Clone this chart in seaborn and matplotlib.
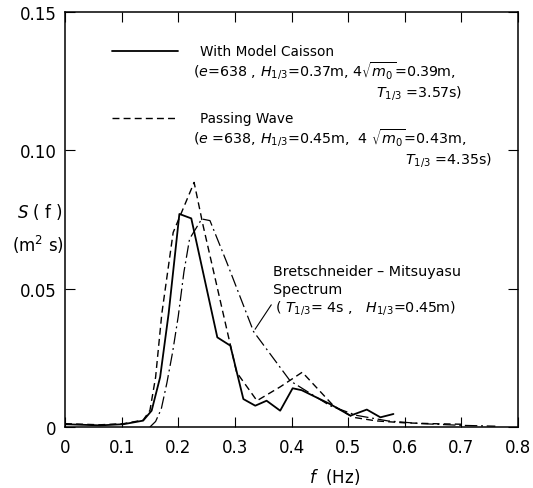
import matplotlib
matplotlib.use("Agg")
import matplotlib.pyplot as plt
import seaborn as sns
import pandas as pd

# ---- data ----
caisson_f = [0.00, 0.03, 0.062, 0.103, 0.138, 0.153, 0.168, 0.183, 0.202, 0.223, 0.269, 0.292,
             0.315, 0.336, 0.356, 0.380, 0.402, 0.418, 0.468, 0.504, 0.533, 0.557, 0.580]
caisson_S = [0.0010, 0.0008, 0.0006, 0.0010, 0.0023, 0.0059, 0.018, 0.041, 0.0770, 0.0754, 0.0324, 0.0294,
             0.0101, 0.0077, 0.0095, 0.0059, 0.0140, 0.0133, 0.0083, 0.0041, 0.0063, 0.0035, 0.0047]

passing_f = [0.00, 0.03, 0.062, 0.103, 0.138, 0.150, 0.160, 0.171, 0.191, 0.228, 0.244, 0.303,
             0.339, 0.380, 0.419, 0.474, 0.509, 0.55, 0.60, 0.65, 0.70]
passing_S = [0.0012, 0.0010, 0.0008, 0.0012, 0.0025, 0.006, 0.018, 0.041, 0.0703, 0.0884, 0.0727, 0.0198,
             0.0095, 0.0145, 0.0198, 0.0077, 0.0035, 0.0022, 0.0015, 0.0012, 0.0010]

bm_f = [0.150, 0.160, 0.170, 0.180, 0.190, 0.200, 0.210, 0.220, 0.2415, 0.256, 0.2857, 0.333,
        0.3975, 0.468, 0.515, 0.57, 0.63, 0.70, 0.76]
bm_S = [0.0000, 0.0020, 0.0065, 0.0160, 0.0270, 0.0400, 0.0560, 0.0680, 0.0752, 0.0746, 0.0595, 0.0345,
        0.0167, 0.0077, 0.0042, 0.0022, 0.0012, 0.0006, 0.0003]

x_ticks = [0, 0.1, 0.2, 0.3, 0.4, 0.5, 0.6, 0.7, 0.8]
x_tick_labels = ["0", "0.1", "0.2", "0.3", "0.4", "0.5", "0.6", "0.7", "0.8"]
y_ticks = [0, 0.05, 0.10, 0.15]
y_tick_labels = ["0", "0.05", "0.10", "0.15"]

sns.set_style("ticks")
plt.rcParams["font.family"] = ["DejaVu Sans"]
plt.rcParams["mathtext.fontset"] = "dejavusans"
plt.rcParams["text.color"] = "black"

W, H = 533, 489
fig = plt.figure(figsize=(W / 100, H / 100), dpi=100)
ax = fig.add_axes([65 / W, 1 - 428 / H, (518 - 65) / W, (428 - 13) / H])

df_c = pd.DataFrame({"f": caisson_f, "S": caisson_S})
df_p = pd.DataFrame({"f": passing_f, "S": passing_S})
df_b = pd.DataFrame({"f": bm_f, "S": bm_S})

sns.lineplot(data=df_c, x="f", y="S", ax=ax, color="black", lw=1.3, sort=False, estimator=None)
sns.lineplot(data=df_p, x="f", y="S", ax=ax, color="black", lw=1.0, sort=False, estimator=None,
             linestyle=(0, (5, 3)))
sns.lineplot(data=df_b, x="f", y="S", ax=ax, color="black", lw=0.9, sort=False, estimator=None,
             linestyle=(0, (10, 3, 1.5, 3)))

ax.set_xlim(0, 0.8)
ax.set_ylim(0, 0.15)
ax.set_xticks(x_ticks)
ax.set_xticklabels(x_tick_labels)
ax.set_yticks(y_ticks)
ax.set_yticklabels(y_tick_labels)
ax.tick_params(direction="in", top=True, right=True, length=7, width=0.8, labelsize=12,
               colors="black")
ax.tick_params(axis="x", pad=8)
ax.tick_params(axis="y", pad=6)
for s in ax.spines.values():
    s.set_linewidth(1.1)
    s.set_color("black")
ax.set_xlabel("")
ax.set_ylabel("")

# axis labels
fig.text(40 / W, 1 - 212 / H, r"$S$ ( f )", ha="center", va="center", fontsize=12)
fig.text(38 / W, 1 - 245 / H, r"(m$^2$ s)", ha="center", va="center", fontsize=12)
fig.text(335 / W, 1 - 477 / H, r"$f$  (Hz)", ha="center", va="center", fontsize=12)

# legend (drawn by hand like the original)
fs_word = 9.8
fs_math = 10.3
y_leg1, y_leg2 = 52, 119
ax.plot([0.083, 0.200], [(428 - y_leg1) / 2767] * 2, color="black", lw=1.3)
ax.plot([0.083, 0.200], [(428 - y_leg2) / 2767] * 2, color="black", lw=1.0,
        linestyle=(0, (5, 3)))
fig.text(200 / W, 1 - 52 / H, "With Model Caisson", fontsize=fs_word, va="center")
fig.text(193 / W, 1 - 71 / H, r"($e$=638 , $H_{1/3}$=0.37m, 4$\sqrt{m_0}$=0.39m,",
         fontsize=fs_math, va="center")
fig.text(462 / W, 1 - 93 / H, r"$T_{1/3}$ =3.57s)", fontsize=fs_math, va="center", ha="right")
fig.text(200 / W, 1 - 119 / H, "Passing Wave", fontsize=fs_word, va="center")
fig.text(193 / W, 1 - 138 / H, r"($e$ =638, $H_{1/3}$=0.45m,  4 $\sqrt{m_0}$=0.43m,",
         fontsize=fs_math, va="center")
fig.text(492 / W, 1 - 160 / H, r"$T_{1/3}$ =4.35s)", fontsize=fs_math, va="center", ha="right")

# Bretschneider annotation
fig.text(273 / W, 1 - 272 / H, "Bretschneider \u2013 Mitsuyasu", fontsize=10.3, va="center")
fig.text(273 / W, 1 - 290 / H, "Spectrum", fontsize=10.3, va="center")
fig.text(275 / W, 1 - 308 / H, r"( $T_{1/3}$= 4s ,   $H_{1/3}$=0.45m)", fontsize=fs_math, va="center")
ax.annotate("", xy=(0.333, 0.0345), xytext=(0.367, 0.0450),
            arrowprops=dict(arrowstyle="-", color="black", lw=0.8))

fig.savefig("out.png", dpi=100)
